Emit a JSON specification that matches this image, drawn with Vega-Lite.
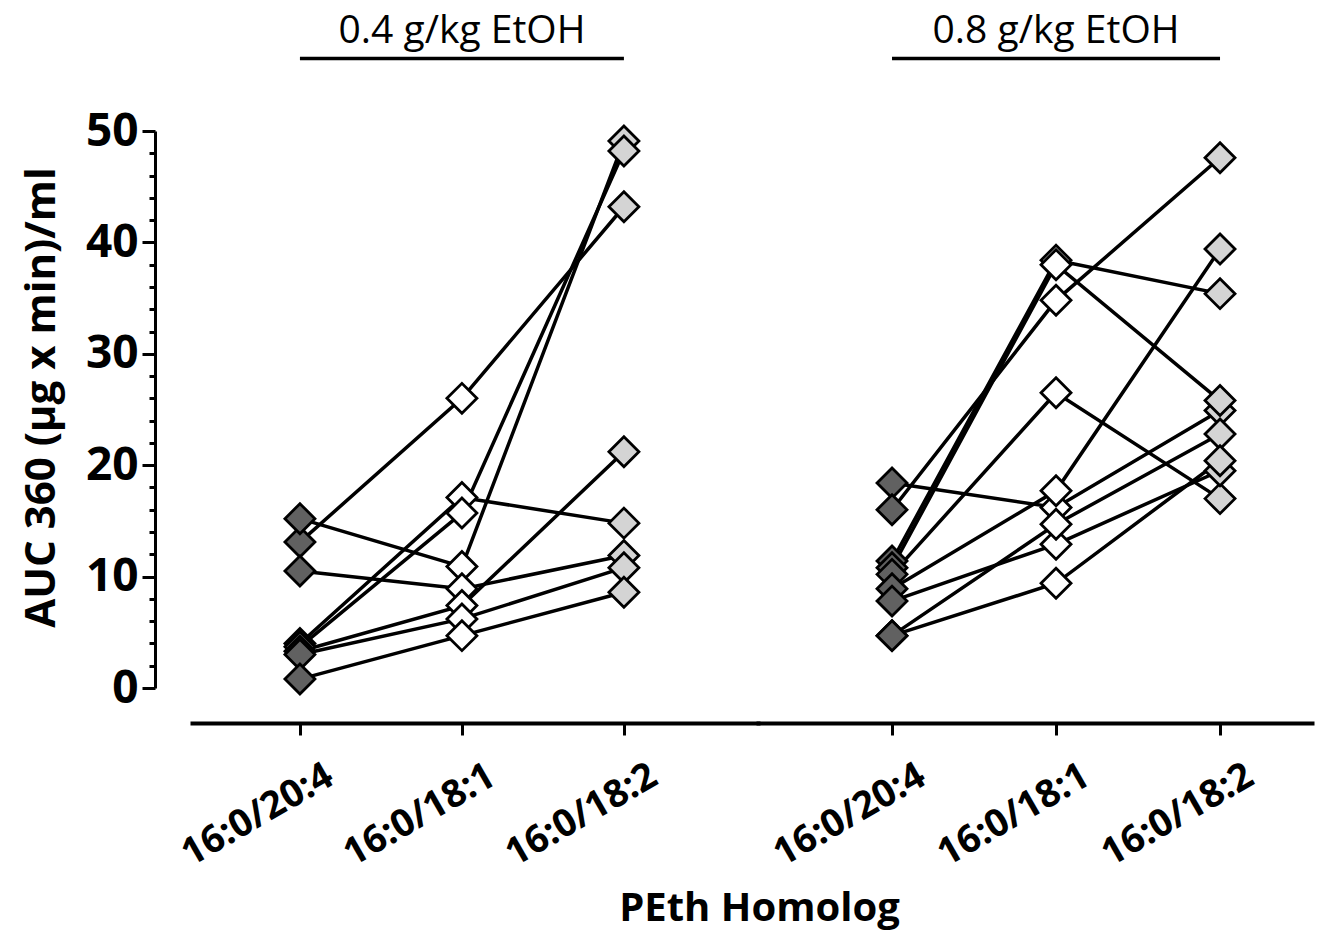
{
  "$schema": "https://vega.github.io/schema/vega-lite/v6.json",
  "background": "white",
  "padding": {"left": 20, "top": 11, "right": 5, "bottom": 5},
  "bounds": "flush",
  "spacing": 0,
  "config": {"view": {"stroke": null}, "font": "Open Sans"},
  "datasets": {
    "auc": [
      {"dose": "0.4", "subject": "a1", "homolog": "16:0/20:4", "auc": 13.1},
      {"dose": "0.4", "subject": "a1", "homolog": "16:0/18:1", "auc": 26.0},
      {"dose": "0.4", "subject": "a1", "homolog": "16:0/18:2", "auc": 43.2},
      {"dose": "0.4", "subject": "a2", "homolog": "16:0/20:4", "auc": 15.2},
      {"dose": "0.4", "subject": "a2", "homolog": "16:0/18:1", "auc": 10.9},
      {"dose": "0.4", "subject": "a2", "homolog": "16:0/18:2", "auc": 49.1},
      {"dose": "0.4", "subject": "a3", "homolog": "16:0/20:4", "auc": 10.5},
      {"dose": "0.4", "subject": "a3", "homolog": "16:0/18:1", "auc": 8.9},
      {"dose": "0.4", "subject": "a3", "homolog": "16:0/18:2", "auc": 11.9},
      {"dose": "0.4", "subject": "a4", "homolog": "16:0/20:4", "auc": 4.0},
      {"dose": "0.4", "subject": "a4", "homolog": "16:0/18:1", "auc": 17.1},
      {"dose": "0.4", "subject": "a4", "homolog": "16:0/18:2", "auc": 14.8},
      {"dose": "0.4", "subject": "a5", "homolog": "16:0/20:4", "auc": 3.7},
      {"dose": "0.4", "subject": "a5", "homolog": "16:0/18:1", "auc": 15.7},
      {"dose": "0.4", "subject": "a5", "homolog": "16:0/18:2", "auc": 48.2},
      {"dose": "0.4", "subject": "a6", "homolog": "16:0/20:4", "auc": 3.3},
      {"dose": "0.4", "subject": "a6", "homolog": "16:0/18:1", "auc": 7.4},
      {"dose": "0.4", "subject": "a6", "homolog": "16:0/18:2", "auc": 21.2},
      {"dose": "0.4", "subject": "a7", "homolog": "16:0/20:4", "auc": 3.0},
      {"dose": "0.4", "subject": "a7", "homolog": "16:0/18:1", "auc": 6.2},
      {"dose": "0.4", "subject": "a7", "homolog": "16:0/18:2", "auc": 10.8},
      {"dose": "0.4", "subject": "a8", "homolog": "16:0/20:4", "auc": 0.8},
      {"dose": "0.4", "subject": "a8", "homolog": "16:0/18:1", "auc": 4.7},
      {"dose": "0.4", "subject": "a8", "homolog": "16:0/18:2", "auc": 8.6},
      {"dose": "0.8", "subject": "b1", "homolog": "16:0/20:4", "auc": 18.4},
      {"dose": "0.8", "subject": "b1", "homolog": "16:0/18:1", "auc": 16.2},
      {"dose": "0.8", "subject": "b1", "homolog": "16:0/18:2", "auc": 24.9},
      {"dose": "0.8", "subject": "b2", "homolog": "16:0/20:4", "auc": 16.0},
      {"dose": "0.8", "subject": "b2", "homolog": "16:0/18:1", "auc": 34.8},
      {"dose": "0.8", "subject": "b2", "homolog": "16:0/18:2", "auc": 47.6},
      {"dose": "0.8", "subject": "b3", "homolog": "16:0/20:4", "auc": 11.4},
      {"dose": "0.8", "subject": "b3", "homolog": "16:0/18:1", "auc": 38.4},
      {"dose": "0.8", "subject": "b3", "homolog": "16:0/18:2", "auc": 35.4},
      {"dose": "0.8", "subject": "b4", "homolog": "16:0/20:4", "auc": 10.8},
      {"dose": "0.8", "subject": "b4", "homolog": "16:0/18:1", "auc": 38.0},
      {"dose": "0.8", "subject": "b4", "homolog": "16:0/18:2", "auc": 25.8},
      {"dose": "0.8", "subject": "b5", "homolog": "16:0/20:4", "auc": 10.2},
      {"dose": "0.8", "subject": "b5", "homolog": "16:0/18:1", "auc": 26.5},
      {"dose": "0.8", "subject": "b5", "homolog": "16:0/18:2", "auc": 17.0},
      {"dose": "0.8", "subject": "b6", "homolog": "16:0/20:4", "auc": 8.9},
      {"dose": "0.8", "subject": "b6", "homolog": "16:0/18:1", "auc": 17.7},
      {"dose": "0.8", "subject": "b6", "homolog": "16:0/18:2", "auc": 39.4},
      {"dose": "0.8", "subject": "b7", "homolog": "16:0/20:4", "auc": 7.8},
      {"dose": "0.8", "subject": "b7", "homolog": "16:0/18:1", "auc": 12.9},
      {"dose": "0.8", "subject": "b7", "homolog": "16:0/18:2", "auc": 19.5},
      {"dose": "0.8", "subject": "b8", "homolog": "16:0/20:4", "auc": 4.7},
      {"dose": "0.8", "subject": "b8", "homolog": "16:0/18:1", "auc": 14.7},
      {"dose": "0.8", "subject": "b8", "homolog": "16:0/18:2", "auc": 22.8},
      {"dose": "0.8", "subject": "b9", "homolog": "16:0/20:4", "auc": 4.7},
      {"dose": "0.8", "subject": "b9", "homolog": "16:0/18:1", "auc": 9.4},
      {"dose": "0.8", "subject": "b9", "homolog": "16:0/18:2", "auc": 20.4}
    ],
    "heads": [
      {"dose": "0.4", "label": "0.4 g/kg EtOH"},
      {"dose": "0.8", "label": "0.8 g/kg EtOH"}
    ]
  },
  "hconcat": [
    {
      "width": 566,
      "height": 557,
      "resolve": {"axis": {"y": "independent"}},
      "layer": [
        {
          "data": {"name": "auc"},
          "transform": [{"filter": "datum.dose === '0.4'"}],
          "encoding": {
            "x": {
              "field": "homolog", "type": "nominal",
              "sort": ["16:0/20:4", "16:0/18:1", "16:0/18:2"],
              "scale": {"type": "point", "domain": ["16:0/20:4", "16:0/18:1", "16:0/18:2"], "padding": 0.747, "align": 0.446},
              "axis": {
                "title": "PEth Homolog", "titleX": 567, "titleY": 197, "titleAlign": "center", "titleBaseline": "alphabetic",
                "titleFontSize": 40, "titleFontWeight": "bold", "titleFont": "Open Sans", "titleColor": "black",
                "offset": 35, "domainWidth": 4, "domainColor": "black", "domainCap": "square", "tickColor": "black", "tickWidth": 3, "tickSize": 12,
                "labelAngle": -30, "labelAlign": "right", "labelBaseline": "middle", "labelFontSize": 38, "labelFontWeight": "bold",
                "labelFont": "Open Sans", "labelColor": "black", "labelPadding": 38, "labelOffset": 30, "grid": false, "labelOverlap": false
              }
            },
            "y": {
              "field": "auc", "type": "quantitative",
              "scale": {"domain": [0, 50], "nice": false},
              "axis": {
                "orient": "left",
                "values": [0, 10, 20, 30, 40, 50],
                "tickSize": 13,
                "offset": 37, "domainWidth": 3, "domainColor": "black", "tickColor": "black", "tickWidth": 3,
                "labelFontSize": 46, "labelFontWeight": "bold", "labelFont": "Open Sans", "labelColor": "black",
                "labelPadding": 4, "labelOverlap": false, "grid": false,
                "title": "AUC 360 (µg x min)/ml", "titleFontSize": 42, "titleFontWeight": "bold", "titleFont": "Open Sans",
                "titleColor": "black", "titlePadding": 22, "titleY": 266
              }
            }
          },
          "layer": [
            {
              "mark": {"type": "line", "color": "black", "strokeWidth": 3.5},
              "encoding": {"detail": {"field": "subject"}}
            },
            {
              "mark": {"type": "point", "shape": "diamond", "filled": true, "size": 900, "stroke": "black", "strokeWidth": 2.8, "opacity": 1},
              "encoding": {
                "fill": {"field": "homolog", "type": "nominal", "scale": {"domain": ["16:0/20:4", "16:0/18:1", "16:0/18:2"], "range": ["#616161", "#ffffff", "#d4d4d4"]}, "legend": null}
              }
            }
          ]
        },
        {
          "data": {"name": "heads"},
          "transform": [{"filter": "datum.dose === '0.4'"}],
          "mark": {"type": "rule", "color": "black", "strokeWidth": 3.5},
          "encoding": {
            "x": {"datum": "16:0/20:4", "type": "nominal"},
            "x2": {"datum": "16:0/18:2"},
            "y": {
              "datum": 56.5, "type": "quantitative",
              "axis": {
                "orient": "left", "offset": 37,
                "values": [2, 4, 6, 8, 12, 14, 16, 18, 22, 24, 26, 28, 32, 34, 36, 38, 42, 44, 46, 48],
                "labels": false, "domain": false, "grid": false, "title": null,
                "tickSize": 6, "tickWidth": 3, "tickColor": "black"
              }
            }
          }
        },
        {
          "data": {"name": "heads"},
          "transform": [{"filter": "datum.dose === '0.4'"}],
          "mark": {"type": "text", "fontSize": 39, "font": "Open Sans", "align": "center", "baseline": "alphabetic", "color": "black"},
          "encoding": {
            "x": {"datum": "16:0/18:1", "type": "nominal"},
            "y": {"datum": 57.9, "type": "quantitative", "axis": null},
            "text": {"field": "label"}
          }
        }
      ]
    },
    {
      "width": 554,
      "height": 557,
      "layer": [
        {
          "data": {"name": "auc"},
          "transform": [{"filter": "datum.dose === '0.8'"}],
          "encoding": {
            "x": {
              "field": "homolog", "type": "nominal",
              "sort": ["16:0/20:4", "16:0/18:1", "16:0/18:2"],
              "scale": {"type": "point", "domain": ["16:0/20:4", "16:0/18:1", "16:0/18:2"], "padding": 0.689, "align": 0.593},
              "axis": {
                "title": null,
                "offset": 35, "domainWidth": 4, "domainColor": "black", "domainCap": "square", "tickColor": "black", "tickWidth": 3, "tickSize": 12,
                "labelAngle": -30, "labelAlign": "right", "labelBaseline": "middle", "labelFontSize": 38, "labelFontWeight": "bold",
                "labelFont": "Open Sans", "labelColor": "black", "labelPadding": 38, "labelOffset": 30, "grid": false, "labelOverlap": false
              }
            },
            "y": {
              "field": "auc", "type": "quantitative",
              "scale": {"domain": [0, 50], "nice": false},
              "axis": null
            }
          },
          "layer": [
            {
              "mark": {"type": "line", "color": "black", "strokeWidth": 3.5},
              "encoding": {"detail": {"field": "subject"}}
            },
            {
              "mark": {"type": "point", "shape": "diamond", "filled": true, "size": 900, "stroke": "black", "strokeWidth": 2.8, "opacity": 1},
              "encoding": {
                "fill": {"field": "homolog", "type": "nominal", "scale": {"domain": ["16:0/20:4", "16:0/18:1", "16:0/18:2"], "range": ["#616161", "#ffffff", "#d4d4d4"]}, "legend": null}
              }
            }
          ]
        },
        {
          "data": {"name": "heads"},
          "transform": [{"filter": "datum.dose === '0.8'"}],
          "mark": {"type": "rule", "color": "black", "strokeWidth": 3.5},
          "encoding": {
            "x": {"datum": "16:0/20:4", "type": "nominal"},
            "x2": {"datum": "16:0/18:2"},
            "y": {"datum": 56.5, "type": "quantitative", "axis": null}
          }
        },
        {
          "data": {"name": "heads"},
          "transform": [{"filter": "datum.dose === '0.8'"}],
          "mark": {"type": "text", "fontSize": 39, "font": "Open Sans", "align": "center", "baseline": "alphabetic", "color": "black"},
          "encoding": {
            "x": {"datum": "16:0/18:1", "type": "nominal"},
            "y": {"datum": 57.9, "type": "quantitative", "axis": null},
            "text": {"field": "label"}
          }
        }
      ]
    }
  ]
}
